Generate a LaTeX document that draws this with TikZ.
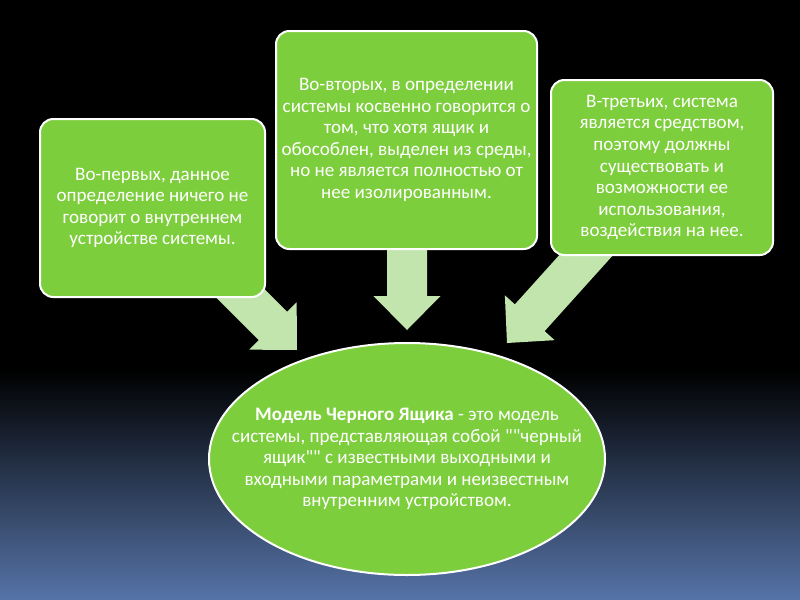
\documentclass[tikz,border=0pt]{standalone}
\usepackage{fontspec}
\setmainfont{Carlito}[Ligatures=TeXOff]
\usetikzlibrary{shapes.geometric}
\definecolor{boxgreen}{RGB}{125,206,60}
\definecolor{arrowgreen}{RGB}{194,229,174}
\definecolor{bgblue}{RGB}{86,116,168}
\newcommand\blockarrowdraw[3]{%
  \begin{scope}[shift={(#1)}, rotate=#2]
    \fill[arrowgreen] (0,0) -- (-34,-33.5) -- (-34,-20) -- (-#3,-20) -- (-#3,20) -- (-34,20) -- (-34,33.5) -- cycle;
  \end{scope}}
\tikzset{
  txt/.style={text=white, align=center, font=\fontsize{14.3}{16.2}\selectfont, inner sep=0pt},
  gbox/.style={txt, draw=white, line width=1.5pt, fill=boxgreen, rounded corners=10pt},
  gell/.style={ellipse, draw=white, line width=1.5pt, fill=boxgreen, inner sep=0pt}
}
\begin{document}
\begin{tikzpicture}[x=0.75pt, y=-0.75pt]
\useasboundingbox (0,0) rectangle (800,600);
\fill[black] (0,0) rectangle (800,372);
\shade[top color=black, bottom color=bgblue] (0,370) rectangle (800,600);

\coordinate (t1) at (297,350);
\coordinate (t2) at (407,330);
\coordinate (t3) at (507,343);
\blockarrowdraw{t1}{-45}{137}
\blockarrowdraw{t2}{-90}{130}
\blockarrowdraw{t3}{-132}{150}

\node[gbox, minimum width=168.75pt, minimum height=133.5pt] (b1) at (152.5,208)
  {Во-первых, данное\\определение ничего не\\говорит о внутреннем\\устройстве системы.};
\node[gbox, minimum width=195.75pt, minimum height=163.5pt] (b2) at (406.5,140)
  {Во-вторых, в определении\\системы косвенно говорится о\\том, что хотя ящик и\\обособлен, выделен из среды,\\но не является полностью от\\нее изолированным.};
\node[gbox, minimum width=166.5pt, minimum height=131.25pt] (b3) at (662,167.5)
  {В-третьих, система\\является средством,\\поэтому должны\\существовать и\\возможности ее\\использования,\\воздействия на нее.};
\node[gell, minimum width=297pt, minimum height=174pt] (e) at (407,459) {};
\node[txt] (etxt) at (e.center)
  {\textbf{Модель Черного Ящика} - это модель\\системы, представляющая собой ""черный\\ящик"" с известными выходными и\\входными параметрами и неизвестным\\внутренним устройством.};
\end{tikzpicture}
\end{document}
